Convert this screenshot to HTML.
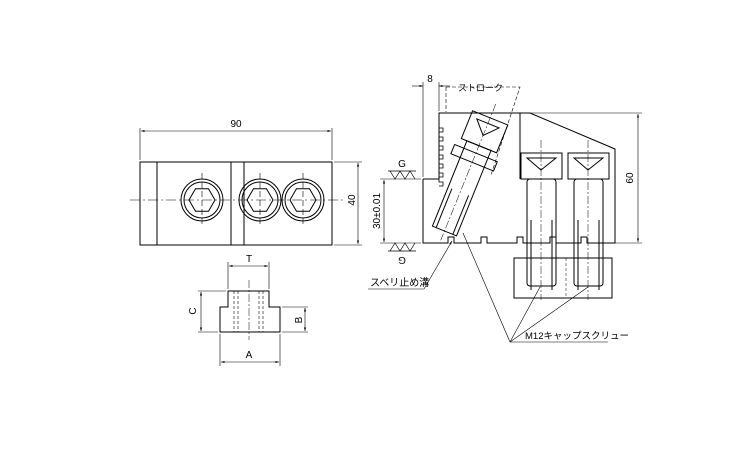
<!DOCTYPE html><html><head><style>body{margin:0;background:#fff}svg{display:block}text{font-family:"Liberation Sans","Noto Sans CJK JP",sans-serif;font-size:10px;fill:#000}</style></head><body>
<svg width="750" height="450" viewBox="0 0 750 450" xmlns="http://www.w3.org/2000/svg" fill="none" stroke="#000" stroke-width="1">
<defs><marker id="a" viewBox="0 0 10 10" refX="10" refY="5" markerWidth="6" markerHeight="6" orient="auto-start-reverse"><path d="M0,2L10,5L0,8z" fill="#000" stroke="none"/></marker>
<g id="h"><circle r="21"/><circle r="18"/><polygon points="13,0 6.5,11.3 -6.5,11.3 -13,0 -6.5,-11.3 6.5,-11.3"/><line x1="0" y1="-27" x2="0" y2="27" stroke-width="0.6" stroke-dasharray="6,3"/></g>
<g id="b"><rect x="521" y="153" width="41" height="26"/><path d="M527,158H556L541,170Z"/><rect x="527" y="179" width="29" height="107" rx="3"/><line x1="531" y1="220" x2="531" y2="290"/><line x1="552" y1="220" x2="552" y2="290"/><line x1="541" y1="140" x2="541" y2="300" stroke-width="0.5" stroke-dasharray="8,2,2,2"/></g>
</defs>
<rect x="140" y="162" width="192" height="83"/>
<line x1="157" y1="162" x2="157" y2="245"/><line x1="231" y1="162" x2="231" y2="245"/><line x1="244" y1="162" x2="244" y2="245"/>
<g stroke-width="0.6" stroke-dasharray="10,3,2,3"><line x1="130" y1="200" x2="345" y2="200"/></g>
<use href="#h" x="202" y="200"/><use href="#h" x="260" y="200"/><use href="#h" x="303" y="200"/>
<line x1="140" y1="128" x2="140" y2="160" stroke-width="0.6"/><line x1="332" y1="128" x2="332" y2="160" stroke-width="0.6"/>
<line x1="141" y1="131" x2="331" y2="131" stroke-width="0.6" marker-start="url(#a)" marker-end="url(#a)"/>
<text x="236" y="127" text-anchor="middle" stroke="none">90</text>
<line x1="334" y1="162" x2="362" y2="162" stroke-width="0.6"/><line x1="334" y1="245" x2="362" y2="245" stroke-width="0.6"/>
<line x1="358" y1="163" x2="358" y2="244" stroke-width="0.6" marker-start="url(#a)" marker-end="url(#a)"/>
<text transform="translate(355,200) rotate(-90)" text-anchor="middle" stroke="none">40</text>
<path d="M228,291H269V307H280V332H220V307H228Z"/>
<g stroke-width="0.6" stroke-dasharray="3,2"><line x1="234" y1="291" x2="234" y2="332"/><line x1="238" y1="291" x2="238" y2="332"/><line x1="259" y1="291" x2="259" y2="332"/><line x1="263" y1="291" x2="263" y2="332"/></g>
<line x1="249" y1="280" x2="249" y2="340" stroke-width="0.5" stroke-dasharray="8,2,2,2"/>
<line x1="228" y1="262" x2="228" y2="289" stroke-width="0.6"/><line x1="269" y1="262" x2="269" y2="289" stroke-width="0.6"/>
<line x1="229" y1="266" x2="268" y2="266" stroke-width="0.6" marker-start="url(#a)" marker-end="url(#a)"/><text x="249" y="262" text-anchor="middle" stroke="none">T</text>
<line x1="198" y1="291" x2="226" y2="291" stroke-width="0.6"/><line x1="198" y1="332" x2="218" y2="332" stroke-width="0.6"/>
<line x1="201" y1="292" x2="201" y2="331" stroke-width="0.6" marker-start="url(#a)" marker-end="url(#a)"/><text transform="translate(196,311) rotate(-90)" text-anchor="middle" stroke="none">C</text>
<line x1="282" y1="307" x2="308" y2="307" stroke-width="0.6"/><line x1="282" y1="332" x2="308" y2="332" stroke-width="0.6"/>
<line x1="305" y1="308" x2="305" y2="331" stroke-width="0.6" marker-start="url(#a)" marker-end="url(#a)"/><text transform="translate(302,320) rotate(-90)" text-anchor="middle" stroke="none">B</text>
<line x1="220" y1="334" x2="220" y2="366" stroke-width="0.6"/><line x1="280" y1="334" x2="280" y2="366" stroke-width="0.6"/>
<line x1="221" y1="362" x2="279" y2="362" stroke-width="0.6" marker-start="url(#a)" marker-end="url(#a)"/><text x="249" y="358" text-anchor="middle" stroke="none">A</text>
<path d="M423,179H439V113H520V179"/>
<path d="M423,179V243H448V237H454V243H481V237H487V243H517V237H523V243H550V237H556V243H581V237H587V243H615V149L530,113H520"/>
<path d="M439,128h4v4h-4v5h4v4h-4v5h4v4h-4v5h4v4h-4v5h4v4h-4v5h4v4h-4v5h4v4h-4" stroke-width="0.8"/>
<use href="#b"/><use href="#b" x="47"/>
<rect x="514" y="258" width="98" height="40"/>
<line x1="566" y1="258" x2="566" y2="298" stroke-width="0.5" stroke-dasharray="3,2"/>
<g transform="translate(-6,2) rotate(22 470 170)"><rect x="455" y="110" width="38" height="30"/><path d="M462,116H486L474,129Z"/><rect x="451" y="148" width="46" height="10"/><rect x="461" y="140" width="26" height="92"/><line x1="465" y1="190" x2="465" y2="232"/><line x1="483" y1="190" x2="483" y2="232"/><line x1="474" y1="95" x2="474" y2="242" stroke-width="0.5" stroke-dasharray="8,2,2,2"/></g>
<path d="M446,87V112M446,87H520L491,175" stroke-width="0.6" stroke-dasharray="4,2"/>
<line x1="423" y1="82" x2="423" y2="177" stroke-width="0.6"/><line x1="439" y1="82" x2="439" y2="111" stroke-width="0.6"/>
<line x1="412" y1="86" x2="423" y2="86" stroke-width="0.6" marker-end="url(#a)"/><line x1="450" y1="86" x2="439" y2="86" stroke-width="0.6" marker-end="url(#a)"/>
<text x="430" y="82" text-anchor="middle" stroke="none">8</text><text x="458" y="91" stroke="none" style="font-size:9px">ストローク</text>
<line x1="522" y1="113" x2="642" y2="113" stroke-width="0.6"/><line x1="592" y1="243" x2="642" y2="243" stroke-width="0.6"/>
<line x1="638" y1="114" x2="638" y2="242" stroke-width="0.6" marker-start="url(#a)" marker-end="url(#a)"/>
<text transform="translate(633,178) rotate(-90)" text-anchor="middle" stroke="none">60</text>
<line x1="380" y1="179" x2="421" y2="179" stroke-width="0.6"/><line x1="380" y1="243" x2="421" y2="243" stroke-width="0.6"/>
<line x1="384" y1="180" x2="384" y2="242" stroke-width="0.6" marker-start="url(#a)" marker-end="url(#a)"/>
<text transform="translate(380,211) rotate(-90)" text-anchor="middle" stroke="none">30±0.01</text>
<path d="M388,171H416M390,171L395,179L400,171L405,179L410,171L415,179" stroke-width="0.7"/>
<text x="402" y="167" text-anchor="middle" stroke="none">G</text>
<path d="M388,251H416M390,251L395,243L400,251L405,243L410,251L415,243" stroke-width="0.7"/>
<text transform="translate(402,257) rotate(180)" text-anchor="middle" stroke="none">G</text>
<text x="370" y="286" stroke="none">スベリ止め溝</text>
<path d="M368,289H424L452,241" stroke-width="0.6" marker-end="url(#a)"/>
<text x="525" y="339" stroke="none" style="font-size:9.5px">M12キャップスクリュー</text>
<path d="M608,342H510L463,233M510,342L540,287M510,342L588,287" stroke-width="0.6"/>
</svg></body></html>
